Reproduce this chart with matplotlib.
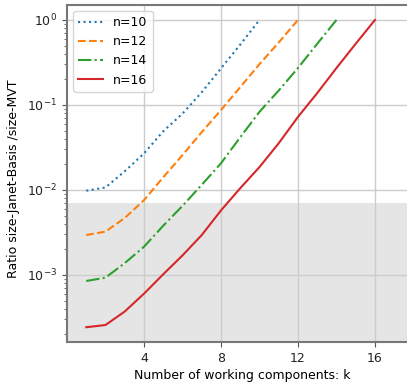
import matplotlib
matplotlib.use('Agg')
import matplotlib.pyplot as plt

# Данные
k10 = list(range(1, 11))
r10 = [0.0098, 0.0107, 0.0166, 0.0269, 0.049, 0.079, 0.141, 0.269, 0.513, 1.0]

k12 = list(range(1, 13))
r12 = [0.00295, 0.00324, 0.00468, 0.00759, 0.0141, 0.0257, 0.0479, 0.0871,
       0.162, 0.302, 0.543, 1.0]

k14 = list(range(1, 15))
r14 = [8.5e-4, 9.3e-4, 1.38e-3, 2.15e-3, 3.8e-3, 6.5e-3, 0.0115, 0.0206,
       0.0417, 0.083, 0.148, 0.272, 0.525, 1.0]

k16 = list(range(1, 17))
r16 = [2.43e-4, 2.58e-4, 3.72e-4, 6.03e-4, 1.02e-3, 1.70e-3, 2.95e-3, 5.75e-3,
       0.0105, 0.0186, 0.0355, 0.0724, 0.138, 0.272, 0.525, 1.0]

shade_top = 0.007  # верхняя граница серой области
xticks = [4, 8, 12, 16]

plt.rcParams['font.size'] = 9

fig = plt.figure(figsize=(4.07, 3.85), dpi=100)
ax = fig.add_axes([67 / 407, 0.1104, 350 / 407, 0.8774])

ax.axhspan(1e-6, shade_top, color='#e5e5e5', zorder=0, lw=0)
ax.plot(k10, r10, ':', color='tab:blue', lw=1.5, label='n=10')
ax.plot(k12, r12, '--', color='tab:orange', lw=1.5, label='n=12')
ax.plot(k14, r14, '-.', color='tab:green', lw=1.5, label='n=14')
ax.plot(k16, r16, '-', color='tab:red', lw=1.5, label='n=16')

ax.set_yscale('log')
ax.set_xlim(0, 350 / 19.25)
ax.set_ylim(1.607e-4, 1.51)
ax.set_xticks(xticks)
ax.grid(True, color='#cccccc', lw=1.0, zorder=0.5)

for s in ax.spines.values():
    s.set_color('#777777')
    s.set_linewidth(1.5)
ax.tick_params(which='both', color='#555555', labelcolor='#222222')

ax.set_xlabel('Number of working components: k', labelpad=3)
ax.set_ylabel('Ratio size-Janet-Basis /size-MVT')
ax.yaxis.set_label_coords(-0.134, 0.484)
ax.legend(loc='upper left')

fig.savefig('out.png', dpi=100)
